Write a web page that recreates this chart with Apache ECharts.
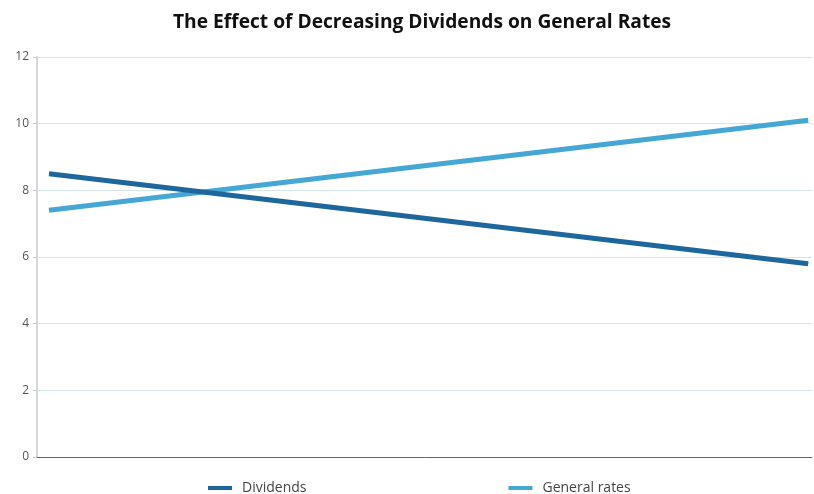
<!DOCTYPE html>
<html>
<head>
<meta charset="utf-8">
<script src="https://cdn.jsdelivr.net/npm/echarts@6/dist/echarts.min.js"></script>
<style>
  html, body { margin: 0; padding: 0; background: #ffffff; }
  #chart { width: 814px; height: 494px; }
</style>
</head>
<body>
<div id="chart"></div>
<script>
// Two snapshots (start and end) for each series
const positions = [0, 1];
const dividends = [8.5, 5.8];
const generalRates = [7.4, 10.1];
const yTicks = [0, 2, 4, 6, 8, 10, 12];

const toPairs = (xs, ys) => xs.map((x, i) => [x, ys[i]]);

const chart = echarts.init(document.getElementById('chart'), null, { renderer: 'canvas' });

chart.setOption({
  animation: false,
  backgroundColor: '#ffffff',
  title: {
    text: 'The Effect of Decreasing Dividends on General Rates',
    left: 173,
    top: 13,
    padding: 0,
    textStyle: {
      fontFamily: 'Open Sans',
      fontWeight: 'bold',
      fontSize: 19.2,
      color: '#111111'
    }
  },
  legend: {
    top: 481,
    left: 208,
    padding: 0,
    itemGap: 202,
    itemWidth: 24,
    itemHeight: 4,
    icon: 'rect',
    textStyle: { fontFamily: 'Open Sans', fontSize: 14, color: '#444444', padding: [0, 0, 0, 5] },
    data: ['Dividends', 'General rates']
  },
  grid: { left: 37, right: 2, top: 57, bottom: 37, containLabel: false },
  xAxis: {
    type: 'value',
    min: -0.0158,
    max: 1.005,
    axisLabel: { show: false },
    axisTick: { show: false },
    splitLine: { show: false },
    axisLine: { show: true, onZero: false, lineStyle: { color: '#666666', width: 1 } }
  },
  yAxis: {
    type: 'value',
    min: yTicks[0],
    max: yTicks[yTicks.length - 1],
    interval: 2,
    axisLine: { show: true, onZero: false, lineStyle: { color: '#d4d8da', width: 2 } },
    axisTick: { show: true, length: 4, lineStyle: { color: '#c8c8c8' } },
    axisLabel: { fontFamily: 'Open Sans', fontSize: 12, color: '#555555', margin: 8 },
    splitLine: { show: true, lineStyle: { color: '#d5e6ea', width: 1 } }
  },
  series: [
    {
      name: 'Dividends',
      type: 'line',
      data: toPairs(positions, dividends),
      symbol: 'none',
      lineStyle: { color: '#1d679c', width: 5 },
      itemStyle: { color: '#1d679c' },
      z: 3
    },
    {
      name: 'General rates',
      type: 'line',
      data: toPairs(positions, generalRates),
      symbol: 'none',
      lineStyle: { color: '#45a7d4', width: 5 },
      itemStyle: { color: '#45a7d4' },
      z: 2
    }
  ]
});
</script>
</body>
</html>
